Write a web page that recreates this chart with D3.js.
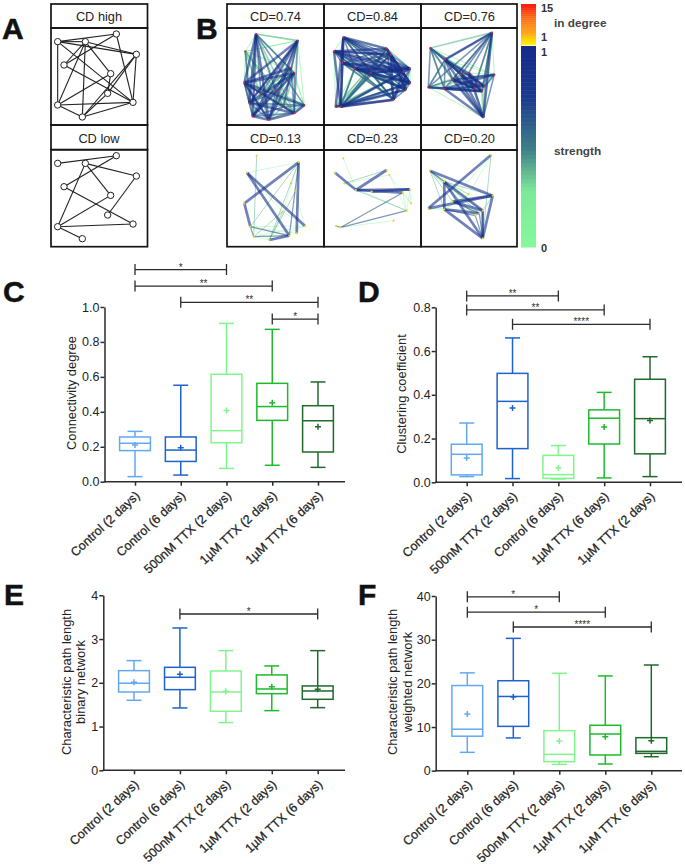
<!DOCTYPE html>
<html><head><meta charset="utf-8">
<script src="https://cdn.jsdelivr.net/npm/d3@7"></script>
<style>html,body{margin:0;padding:0;background:#fff}svg{display:block}text{font-family:"Liberation Sans",Arial,sans-serif}</style>
</head><body><svg id="c" width="685" height="865"></svg>
<script>
// ---------- box-plot data ----------
const categoriesStd = ["Control (2 days)","Control (6 days)","500nM TTX (2 days)","1µM TTX (2 days)","1µM TTX (6 days)"];
const categoriesD = ["Control (2 days)","500nM TTX (2 days)","Control (6 days)","1µM TTX (6 days)","1µM TTX (2 days)"];
const boxColors = ["#62a9f2","#1e63cc","#80f58c","#1dbb2c","#1f6a2b"];

const cdMin=[.029,.038,.076,.094,.082], cdQ1=[.178,.116,.223,.351,.170], cdMed=[.220,.181,.292,.430,.349], cdQ3=[.256,.256,.615,.563,.435], cdMax=[.288,.552,.906,.872,.571], cdMean=[.210,.195,.408,.452,.315];
const ccMin=[.026,.017,.015,.020,.026], ccQ1=[.034,.154,.018,.175,.130], ccMed=[.128,.370,.035,.293,.291], ccQ3=[.174,.498,.123,.331,.471], ccMax=[.271,.660,.168,.411,.574], ccMean=[.111,.340,.067,.253,.282];
const plbMin=[1.60,1.425,1.09,1.364,1.432], plbQ1=[1.79,1.844,1.349,1.752,1.623], plbMed=[1.99,2.126,1.79,1.859,1.813], plbQ3=[2.278,2.354,2.27,2.18,1.928], plbMax=[2.507,3.253,2.735,2.385,2.735], plbMean=[2.01,2.194,1.806,1.912,1.851];
const plwMin=[4.2,7.5,1.45,1.53,3.2], plwQ1=[7.9,10.15,2.06,3.6,3.97], plwMed=[9.5,17,3.74,8.4,4.43], plwQ3=[19.5,20.6,9.16,10.4,7.56], plwMax=[22.4,30.3,22.3,21.7,24.2], plwMean=[13,16.9,6.8,7.8,6.87];

// significance brackets: [from category index, to category index, level on value axis, stars]
const cdBrackets=[[0,2,1.214,"*"],[0,3,1.12,"**"],[1,4,1.027,"**"],[3,4,.931,"*"]];
const ccBrackets=[[0,2,.852,"**"],[0,3,.788,"**"],[1,4,.722,"****"]];
const plbBrackets=[[1,4,3.573,"*"]];
const plwBrackets=[[0,2,39.8,"*"],[0,3,36.3,"*"],[1,4,32.9,"****"]];

// ---------- network schematic (panel A) ----------
const schemNodes=[[23,41],[106,41],[199,18],[259,79],[42,111],[182,137],[173,196],[249,223],[23,231],[97,267]];
const schemHigh=[[0,2],[0,8],[0,7],[0,3],[0,1],[1,3],[1,5],[1,8],[1,9],[1,4],[2,4],[2,7],[3,7],[3,6],[3,9],[4,7],[5,8],[5,6],[6,9],[8,7],[8,9],[9,7]];
const schemLow=[[0,2],[2,4],[1,3],[1,5],[1,8],[4,7],[5,8],[8,7],[8,9],[3,6]];

// ---------- functional networks (panel B): node list, edges by strength tier ----------
const abc="abcdefghijklmn";
const net1Nodes=[[90,18],[215,38],[58,70],[195,120],[55,165],[205,135],[70,225],[235,232],[80,265],[128,275],[205,255],[172,237],[105,195],[150,190]];
const net1Weak="ab ac ad ce cd cb cf bf bh ch dh fh ag ai gm mn dn bc cn cm".split(" ");
const net1Fill="ak al cj ck cl dm dj dl en el fm fn fl gi gl hj hk hm hn im in jl jm kn km lm ln ci dg ab af".split(" ");
const net1Mid="ah af am an bd bg bm bn cg ej eg em dk fk gn gj hl il jn kl ei bk bl gh ik".split(" ");
const net1Strong="ae ag ai aj be bi bg bj de di ef eh ek ej fi fj gk gf ij jk kh".split(" ");

const net2Nodes=[[58,28],[30,70],[55,105],[92,122],[140,135],[188,62],[200,80],[258,122],[238,132],[258,165],[245,185],[208,215],[35,236],[50,236]];
const net2Weak="ab bm bn cm dm em fm af fh hj ah hk gf ag".split(" ");
const net2Fill="al ak aj bk bl ck cl cj dj dk dl ek el fl gl il ng nf ne nd ni mf mg mh mi mj mk cn dn en hk fh".split(" ");
const net2Mid="ad ae ag aj ak bc bd be bg cd cf cg de df dg ef eg eh ei fg fi gh gi ih ij jk kl ek el fl dn ne ni ng nf mk mj al bk bl ck cl".split(" ");
const net2Strong="af ah ai bf bh bi bj ch ci ce dh di ac an bn cn nl nk nj nh ml fj fk gk gl gj hl dj ej il ik dk am bg eh".split(" ");

const net3Nodes=[[213,14],[28,60],[72,95],[22,178],[70,182],[95,155],[143,135],[220,140],[190,175],[183,190],[160,180],[187,268],[120,140]];
const net3Weak="ah bh dg dl ch dm eg bg dk gh bk ek di dh".split(" ");
const net3Fill="ab ak aj al bl be bg ck cd dk dj fg fh fk gk hk hj kl jl il em fm gm".split(" ");
const net3Mid="ac af ae am ag ai ad aj be bf bm bj bi bc bd de df hl hi ce cd cg cm ak ck cf".split(" ");
const net3Strong="cl cj ci dj ej fi fl gl gi he hf al el ml mk fk ei fj gj ac".split(" ");

const net4Nodes=[[92,17],[218,37],[63,68],[55,160],[73,230],[83,260],[130,270],[190,257],[212,250],[237,228],[195,100],[170,185],[208,125]];
const net4Weak="cb ej fj gj eh ei mj fg cl bl eg lj".split(" ");
const net4Fill="af bg be fl gl gm".split(" ");
const net4Mid="fh ef bh eh".split(" ");
const net4Strong="ch cj bd bi de gh".split(" ");

const net5Nodes=[[352,25],[327,68],[482,60],[355,100],[390,120],[552,118],[530,128],[490,75],[542,182],[555,160],[345,232],[330,228],[503,212],[437,125]];
const net5Weak="ae hj hi gj fj fi km di gi dh".split(" ");
const net5Fill="ei dc".split(" ");
const net5Mid="kg ki lk".split(" ");
const net5Strong="be ce ef eg nf".split(" ");

const net6Nodes=[[795,15],[612,62],[655,95],[607,175],[655,178],[680,155],[800,137],[770,182],[748,197],[770,265],[760,190],[728,133]];
const net6Weak="ae al de dh lc le bl bk fk cl el".split(" ");
const net6Fill="aj be bf bh cg ck hg bi".split(" ");
const net6Mid="bc ij hj kj fk ei".split(" ");
const net6Strong="ad bg cj ce ej ch ek fh fg jh jg dg".split(" ");

const strengthStops=[0,.27,.48,.73,1], strengthColors=["#84f89a","#7ee89a","#3f8088","#1a3a8e","#15298a"];
const degreeStops=[1,5,10,15], degreeColors=["#fff200","#ffa51e","#ff6a10","#f5120f"];
const tierStrength=[.12,.36,.62,.92];
const denseWidth=[1,1.7,1.6,2.5], sparseWidth=[.6,.9,1.2,2.7];
const cbLevels=d3.range(0,1,1/50), degLevels=d3.range(1,15,.7);

// ---------- drawing ----------
const svg=d3.select("#c");
const ink="#2b2b2b";
const strengthColor=d3.scaleLinear().domain(strengthStops).range(strengthColors);
const degreeColor=d3.scaleLinear().domain(degreeStops).range(degreeColors);
const defs=svg.append("defs");
defs.append("filter").attr("id","soft").attr("x","-5%").attr("y","-5%").attr("width","110%").attr("height","110%")
  .append("feGaussianBlur").attr("stdDeviation",.45);

function letter(t,x,y){svg.append("text").attr("x",x).attr("y",y).attr("font-size",30).attr("font-weight","bold").attr("fill","#111").attr("stroke","#111").attr("stroke-width",.5).text(t);}
[["A",2,39],["B",196,39],["C",3,302],["D",358,302],["E",4,605],["F",358,605]].forEach(d=>letter(...d));

// Panel A
function schematic(edges,y0){
  const sx=d3.scaleLinear().domain([0,294]).range([50,148]);
  const sy=d3.scaleLinear().domain([0,294]).range([y0,y0+98]);
  const g=svg.append("g");
  g.selectAll("line").data(edges).join("line")
    .attr("x1",d=>sx(schemNodes[d[0]][0])).attr("y1",d=>sy(schemNodes[d[0]][1]))
    .attr("x2",d=>sx(schemNodes[d[1]][0])).attr("y2",d=>sy(schemNodes[d[1]][1]))
    .attr("stroke","#222").attr("stroke-width",1.1);
  g.selectAll("circle").data(schemNodes).join("circle")
    .attr("cx",d=>sx(d[0])).attr("cy",d=>sy(d[1])).attr("r",3.2)
    .attr("fill","#fff").attr("stroke","#222").attr("stroke-width",1);
}
schematic(schemHigh,28);
schematic(schemLow,149.7);

function frame(x,y,w,h){svg.append("rect").attr("x",x).attr("y",y).attr("width",w).attr("height",h).attr("fill","none").attr("stroke","#151515").attr("stroke-width",1.7);}
function cellTitle(t,x,y){svg.append("text").attr("x",x).attr("y",y).attr("text-anchor","middle").attr("font-size",12.8).attr("fill","#222").text(t);}

// Panel B
function network(nodes,weak,fill,mid,strong,widths,dx,rx,dy,ry,nodeColor,op){
  const sx=d3.scaleLinear().domain(dx).range(rx), sy=d3.scaleLinear().domain(dy).range(ry);
  const g=svg.append("g").attr("filter","url(#soft)");
  [weak,fill,mid,strong].forEach((list,t)=>{
    g.append("g").selectAll("line").data(list).join("line")
      .attr("x1",d=>sx(nodes[abc.indexOf(d[0])][0])).attr("y1",d=>sy(nodes[abc.indexOf(d[0])][1]))
      .attr("x2",d=>sx(nodes[abc.indexOf(d[1])][0])).attr("y2",d=>sy(nodes[abc.indexOf(d[1])][1]))
      .attr("stroke",strengthColor(tierStrength[t])).attr("stroke-width",widths[t]).attr("stroke-opacity",op);
  });
  g.append("g").selectAll("circle").data(nodes).join("circle")
    .attr("cx",d=>sx(d[0])).attr("cy",d=>sy(d[1])).attr("r",1.1).attr("fill",nodeColor);
}
network(net1Nodes,net1Weak,net1Fill,net1Mid,net1Strong,denseWidth,[0,300],[226,326],[0,294],[28,126],"#d8233a",.6);
network(net2Nodes,net2Weak,net2Fill,net2Mid,net2Strong,denseWidth,[0,300],[324,424],[0,294],[28,126],"#d8233a",.6);
network(net3Nodes,net3Weak,net3Fill,net3Mid,net3Strong,denseWidth,[0,300],[421,521],[0,294],[28,126],"#d8233a",.6);
const zoomX=[0,885],pxX=[226,521],zoomY=[0,294],pxY=[150,248];
network(net4Nodes,net4Weak,net4Fill,net4Mid,net4Strong,sparseWidth,zoomX,pxX,zoomY,pxY,"#e6d23a",.6);
network(net5Nodes,net5Weak,net5Fill,net5Mid,net5Strong,sparseWidth,zoomX,pxX,zoomY,pxY,"#e6d23a",.6);
network(net6Nodes,net6Weak,net6Fill,net6Mid,net6Strong,sparseWidth,zoomX,pxX,zoomY,pxY,"#e6d23a",.6);

[[51,4,96.5,24],[51,28,96.5,97],[51,125,96.5,24.7],[51,149.7,96.5,97]].forEach(d=>frame(...d));
cellTitle("CD high",99,21);cellTitle("CD low",99,142.5);
[[227,4],[324,4],[421,4]].forEach(d=>frame(d[0],d[1],d[0]==421?96:97,24));
[[227,28],[324,28],[421,28]].forEach(d=>frame(d[0],d[1],d[0]==421?96:97,97));
[[227,125],[324,125],[421,125]].forEach(d=>frame(d[0],d[1],d[0]==421?96:97,25));
[[227,150],[324,150],[421,150]].forEach(d=>frame(d[0],d[1],d[0]==421?96:97,96.7));
[["CD=0.74",275.5,21],["CD=0.84",372.5,21],["CD=0.76",469.5,21],["CD=0.13",275.5,142.5],["CD=0.23",372.5,142.5],["CD=0.20",469.5,142.5]].forEach(d=>cellTitle(...d));

// Colour bar
const cbY=d3.scaleLinear().domain([0,1]).range([247,46]);
svg.append("g").selectAll("rect").data(cbLevels).join("rect")
  .attr("x",521).attr("width",15).attr("y",d=>cbY(d+1/50)).attr("height",d=>cbY(d)-cbY(d+1/50)+.5)
  .attr("fill",d=>strengthColor(d));
const degY=d3.scaleLinear().domain([1,15]).range([45,4]);
svg.append("g").selectAll("rect").data(degLevels).join("rect")
  .attr("x",521).attr("width",15).attr("y",d=>degY(d+.7)).attr("height",d=>degY(d)-degY(d+.7)+.3)
  .attr("fill",d=>degreeColor(d));
[["15",541,11.5],["1",541,40.5],["1",541,56],["0",541,251.5]].forEach(d=>svg.append("text").attr("x",d[1]).attr("y",d[2]).attr("font-size",11).attr("font-weight","bold").attr("fill","#333").text(d[0]));
[["in degree",554,27],["strength",554,155]].forEach(d=>svg.append("text").attr("x",d[1]).attr("y",d[2]).attr("font-size",11.8).attr("font-weight","bold").attr("fill","#444").text(d[0]));

// Box plots
function boxPlot(o){
  const x=d3.scalePoint().domain(d3.range(5)).range(o.xr);
  const y=d3.scaleLinear().domain(o.yd).range(o.yr);
  const g=svg.append("g");
  const rows=o.min.map((_,i)=>({i,c:boxColors[i],min:o.min[i],q1:o.q1[i],med:o.med[i],q3:o.q3[i],max:o.max[i],mean:o.mean[i]}));
  const bw=15.4, cap=7.5, sw=1.5;
  const s=g.selectAll("g.b").data(rows).join("g").attr("class","b").attr("stroke",d=>d.c).attr("stroke-width",sw).attr("fill","none");
  s.append("line").attr("x1",d=>x(d.i)).attr("x2",d=>x(d.i)).attr("y1",d=>y(d.max)).attr("y2",d=>y(d.q3));
  s.append("line").attr("x1",d=>x(d.i)).attr("x2",d=>x(d.i)).attr("y1",d=>y(d.q1)).attr("y2",d=>y(d.min));
  s.append("line").attr("x1",d=>x(d.i)-cap).attr("x2",d=>x(d.i)+cap).attr("y1",d=>y(d.max)).attr("y2",d=>y(d.max));
  s.append("line").attr("x1",d=>x(d.i)-cap).attr("x2",d=>x(d.i)+cap).attr("y1",d=>y(d.min)).attr("y2",d=>y(d.min));
  s.append("rect").attr("x",d=>x(d.i)-bw).attr("width",2*bw).attr("y",d=>y(d.q3)).attr("height",d=>y(d.q1)-y(d.q3));
  s.append("line").attr("x1",d=>x(d.i)-bw).attr("x2",d=>x(d.i)+bw).attr("y1",d=>y(d.med)).attr("y2",d=>y(d.med));
  s.append("path").attr("d",d=>`M${x(d.i)-3},${y(d.mean)}H${x(d.i)+3}M${x(d.i)},${y(d.mean)-3}V${y(d.mean)+3}`);

  const ya=g.append("g").attr("transform",`translate(${o.xr0},0)`).call(d3.axisLeft(y).tickValues(o.ticks).tickFormat(o.fmt).tickSize(4).tickPadding(1).tickSizeOuter(0));
  ya.selectAll(".domain,line").attr("stroke",ink).attr("stroke-width",1.5);
  ya.selectAll("text").attr("font-size",12.5).attr("font-family",'"Liberation Sans",Arial,sans-serif').attr("fill","#222");
  const xa=g.append("g").attr("transform",`translate(0,${o.yr[0]})`).call(d3.axisBottom(x).tickFormat(i=>o.cats[i]).tickSize(4).tickSizeOuter(0));
  xa.select(".domain").remove();
  xa.selectAll("line").attr("stroke",ink).attr("stroke-width",1.5);
  xa.selectAll("text").attr("font-size",12.5).attr("font-family",'"Liberation Sans",Arial,sans-serif').attr("fill","#222").attr("stroke","#222").attr("stroke-width",.25)
    .attr("text-anchor","end").attr("dy",0).attr("y",0).attr("transform","translate(5,15) rotate(-43)");
  g.append("line").attr("x1",o.xr0-.7).attr("x2",o.xEnd).attr("y1",o.yr[0]).attr("y2",o.yr[0]).attr("stroke",ink).attr("stroke-width",1.5);

  o.title.forEach((t,i)=>g.append("text").attr("transform",`translate(${o.titleX+i*14.5},${o.titleY}) rotate(-90)`).attr("text-anchor","middle").attr("font-size",12.9).attr("fill","#222").text(t));

  const br=g.selectAll("g.br").data(o.br).join("g").attr("class","br");
  br.append("path").attr("fill","none").attr("stroke",ink).attr("stroke-width",1.3)
    .attr("d",d=>`M${x(d[0])},${y(d[2])-5.5}V${y(d[2])+5.5}M${x(d[0])},${y(d[2])}H${x(d[1])}M${x(d[1])},${y(d[2])-5.5}V${y(d[2])+5.5}`);
  br.append("text").attr("x",d=>(x(d[0])+x(d[1]))/2).attr("y",d=>y(d[2])+1).attr("text-anchor","middle").attr("font-size",10).attr("fill","#333").text(d=>d[3]);
}
boxPlot({cats:categoriesStd,min:cdMin,q1:cdQ1,med:cdMed,q3:cdQ3,max:cdMax,mean:cdMean,br:cdBrackets,xr:[135,318],xr0:104.5,xEnd:345,yd:[0,1],yr:[481.7,307],ticks:[0,.2,.4,.6,.8,1],fmt:d3.format(".1f"),title:["Connectivity degree"],titleX:76,titleY:393});
boxPlot({cats:categoriesD,min:ccMin,q1:ccQ1,med:ccMed,q3:ccQ3,max:ccMax,mean:ccMean,br:ccBrackets,xr:[466.7,650],xr0:435.7,xEnd:682,yd:[0,.8],yr:[482.3,307.3],ticks:[0,.2,.4,.6,.8],fmt:d3.format(".1f"),title:["Clustering coefficient"],titleX:406,titleY:394});
boxPlot({cats:categoriesStd,min:plbMin,q1:plbQ1,med:plbMed,q3:plbQ3,max:plbMax,mean:plbMean,br:plbBrackets,xr:[134,317.7],xr0:103.3,xEnd:345,yd:[0,4],yr:[770.3,595.3],ticks:[0,1,2,3,4],fmt:d3.format("d"),title:["Characteristic path length","binary network"],titleX:70.5,titleY:682});
boxPlot({cats:categoriesStd,min:plwMin,q1:plwQ1,med:plwMed,q3:plwQ3,max:plwMax,mean:plwMean,br:plwBrackets,xr:[467.3,651.3],xr0:435.7,xEnd:682,yd:[0,40],yr:[770.7,596],ticks:[0,10,20,30,40],fmt:d3.format("d"),title:["Characteristic path length","weighted network"],titleX:397,titleY:682});
</script></body></html>
